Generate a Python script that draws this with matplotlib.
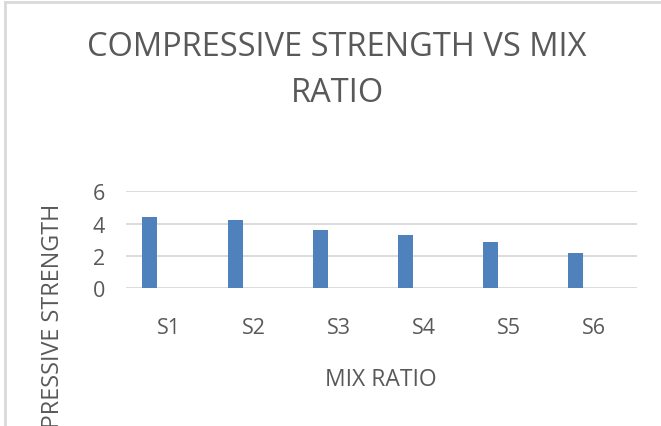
import matplotlib
matplotlib.use("Agg")
import matplotlib.pyplot as plt
import numpy as np

plt.rcParams['font.family'] = ['Open Sans', 'DejaVu Sans']

mixes = ['S1', 'S2', 'S3', 'S4', 'S5', 'S6']
strength = [4.4, 4.25, 3.62, 3.3, 2.83, 2.2]
yticks = [0, 2, 4, 6]

txt = '#595959'
grid = '#d9d9d9'
blue = '#4f81bd'

fig = plt.figure(figsize=(6.61, 4.27), dpi=100)
ax = fig.add_axes([126 / 661, 1 - 289 / 427, 511 / 661, 96.7 / 427])

x = np.arange(len(mixes))
# bars sit left of the category centre (first slot of a clustered group)
ax.bar(x - 0.22, strength, width=0.176, color=blue, zorder=3)

ax.set_xlim(-0.5, len(mixes) - 0.5)
ax.set_ylim(0, 6)
ax.set_yticks(yticks)
ax.set_xticks(x)
ax.set_xticklabels(mixes)
ax.yaxis.grid(True, color=grid, linewidth=1.3, zorder=0)
ax.tick_params(axis='both', length=0, colors=txt, labelsize=15.5)
ax.tick_params(axis='y', pad=15)
ax.tick_params(axis='x', pad=21)
for s in ax.spines.values():
    s.set_visible(False)

fig.text(337 / 661, 1 - 48 / 427, 'COMPRESSIVE STRENGTH VS MIX', ha='center', va='center',
         fontsize=23.5, color=txt)
fig.text(337 / 661, 1 - 93 / 427, 'RATIO', ha='center', va='center',
         fontsize=23.5, color=txt)
fig.text(381 / 661, 1 - 380 / 427, 'MIX RATIO', ha='center', va='center',
         fontsize=16.5, color=txt)
fig.text(53 / 661, 1 - 204 / 427, 'COMPRESSIVE STRENGTH', rotation=90, ha='center', va='top',
         fontsize=16.8, color=txt)

# chart frame: only top and left edges are inside the picture
fig.add_artist(plt.Line2D([5 / 661, 5 / 661], [0, 1 - 3 / 427], color=grid, linewidth=2))
fig.add_artist(plt.Line2D([5 / 661, 1], [1 - 3 / 427, 1 - 3 / 427], color=grid, linewidth=2))

fig.savefig('out.png', dpi=100)
